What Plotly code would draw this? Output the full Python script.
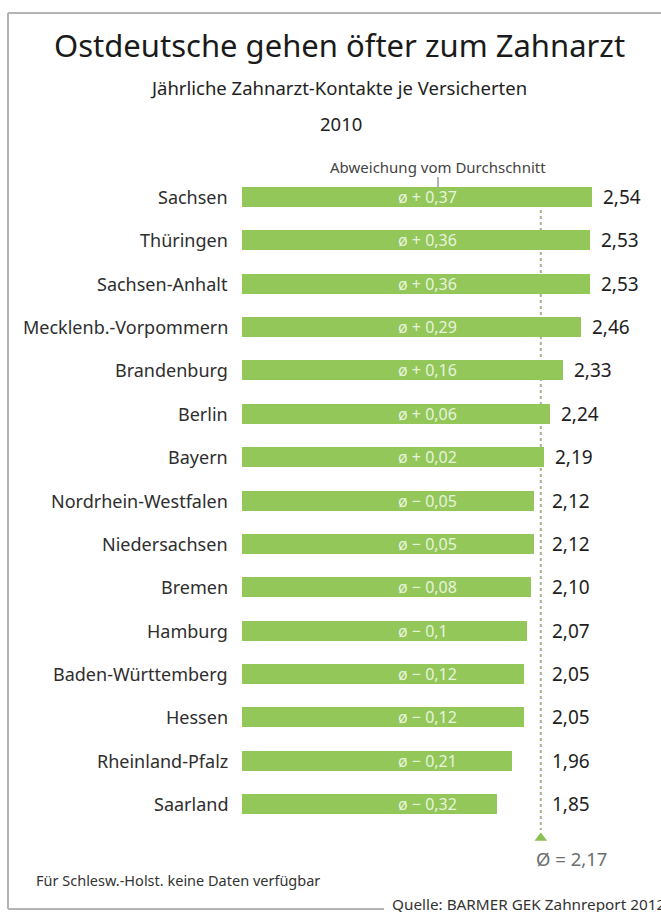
import plotly.graph_objects as go

states = ["Sachsen", "Thüringen", "Sachsen-Anhalt", "Mecklenb.-Vorpommern", "Brandenburg",
          "Berlin", "Bayern", "Nordrhein-Westfalen", "Niedersachsen", "Bremen", "Hamburg",
          "Baden-Württemberg", "Hessen", "Rheinland-Pfalz", "Saarland"]
values = [2.54, 2.53, 2.53, 2.46, 2.33, 2.24, 2.19, 2.12, 2.12, 2.10, 2.07, 2.05, 2.05, 1.96, 1.85]
deviation_labels = ["ø + 0,37", "ø + 0,36", "ø + 0,36", "ø + 0,29", "ø + 0,16", "ø + 0,06",
                    "ø + 0,02", "ø − 0,05", "ø − 0,05", "ø − 0,08", "ø − 0,1", "ø − 0,12",
                    "ø − 0,12", "ø − 0,21", "ø − 0,32"]
value_labels = ["2,54", "2,53", "2,53", "2,46", "2,33", "2,24", "2,19", "2,12", "2,12", "2,10",
                "2,07", "2,05", "2,05", "1,96", "1,85"]
average = 2.17
average_label = "Ø = 2,17"

W, H = 661, 912
X0, PXU = 242.0, 137.7          # pixel of zero, pixels per unit
Y0, ROW = 197.0, 43.36          # pixel of first row, row spacing

def dx(px):
    return (px - X0) / PXU

def dy(py):
    return (py - Y0) / ROW

FONT = "Noto Sans"
GREEN = "#93c75a"
idx = list(range(len(states)))

fig = go.Figure()
fig.add_trace(go.Bar(x=values, y=idx, orientation="h", base=0, width=20 / ROW,
                     marker=dict(color=GREEN, line=dict(width=0)), hoverinfo="skip"))
fig.add_trace(go.Scatter(x=[average], y=[dy(838)], mode="markers",
                         marker=dict(symbol="triangle-up", size=11, color="#8cc152"),
                         hoverinfo="skip"))

ann = []
for i, s in enumerate(states):
    ann.append(dict(x=dx(230), y=i, text=s, xanchor="right", yanchor="middle", showarrow=False,
                    font=dict(family=FONT, size=18, color="#2e2e2e")))
    ann.append(dict(x=dx(396), y=i, text=deviation_labels[i], xanchor="left", yanchor="middle",
                    showarrow=False, font=dict(family=FONT, size=16, color="rgba(255,255,255,0.8)")))
    ann.append(dict(x=max(values[i], average) + 9 / PXU, y=i, text=value_labels[i], xanchor="left",
                    yanchor="middle", showarrow=False,
                    font=dict(family=FONT, size=19, color="#1e1e1e")))

ann.append(dict(x=dx(571), y=dy(858), text=average_label, xanchor="center", yanchor="middle",
                showarrow=False, font=dict(family=FONT, size=18.5, color="#6e6e6e")))

def ptext(x, y, text, size, color="#222", anchor="center"):
    ann.append(dict(xref="paper", yref="paper", x=x / W, y=1 - y / H, text=text, xanchor=anchor,
                    yanchor="middle", showarrow=False, font=dict(family=FONT, size=size, color=color)))

ptext(339, 45, "Ostdeutsche gehen öfter zum Zahnarzt", 31, "#1a1a1a")
ptext(338, 88, "Jährliche Zahnarzt-Kontakte je Versicherten", 18.5, "#222")
ptext(341, 124, "2010", 18.5, "#222")
ptext(438, 167, "Abweichung vom Durchschnitt", 15, "#444")
ptext(34, 880, "Für Schlesw.-Holst. keine Daten verfügbar", 14.5, "#333", "left")
ptext(390, 904, "Quelle: BARMER GEK Zahnreport 2012", 15.3, "#333", "left")

shapes = [
    dict(type="line", xref="x", yref="y", x0=average, x1=average, y0=dy(204), y1=dy(830),
         line=dict(color="#a6b38e", width=2, dash="dot"), layer="below"),
    dict(type="line", xref="paper", yref="paper", x0=438 / W, x1=438 / W, y0=1 - 177 / H,
         y1=1 - 187 / H, line=dict(color="#666", width=1)),
    dict(type="line", xref="paper", yref="paper", x0=8 / W, x1=1, y0=1 - 13 / H, y1=1 - 13 / H,
         line=dict(color="#b4b4b4", width=2)),
    dict(type="line", xref="paper", yref="paper", x0=8 / W, x1=8 / W, y0=1 - 13 / H, y1=1 - 909 / H,
         line=dict(color="#b4b4b4", width=2)),
    dict(type="line", xref="paper", yref="paper", x0=8 / W, x1=384 / W, y0=1 - 909 / H,
         y1=1 - 909 / H, line=dict(color="#b4b4b4", width=2)),
]

fig.update_layout(
    width=W, height=H, margin=dict(l=0, r=0, t=0, b=0),
    paper_bgcolor="white", plot_bgcolor="white", showlegend=False,
    xaxis=dict(range=[dx(0), dx(W)], visible=False, fixedrange=True),
    yaxis=dict(range=[dy(H), dy(0)], visible=False, fixedrange=True),
    annotations=ann, shapes=shapes, bargap=0,
)
fig.write_html("out.html")
